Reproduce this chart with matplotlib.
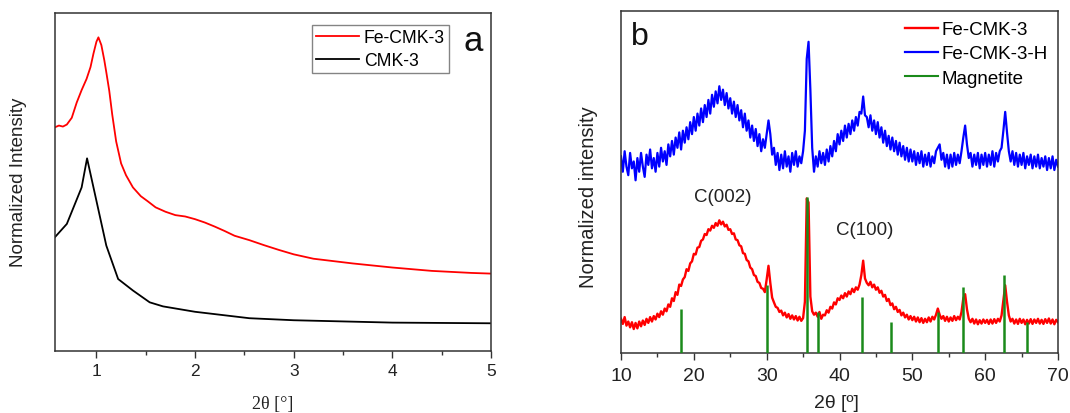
import numpy as np
import matplotlib
matplotlib.use("Agg")
import matplotlib.pyplot as plt
from matplotlib.ticker import MultipleLocator

plt.rcParams['font.family'] = ['Liberation Sans', 'DejaVu Sans']

# ---------------- Panel a data (low-angle XRD) ----------------
two_theta_fe_a = [0.58, 0.62, 0.66, 0.70, 0.75, 0.80, 0.85, 0.90, 0.94, 0.97, 1.00, 1.02,
                  1.05, 1.08, 1.10, 1.13, 1.16, 1.20, 1.25, 1.30, 1.37, 1.45, 1.52, 1.60,
                  1.70, 1.80, 1.90, 2.00, 2.10, 2.20, 2.30, 2.40, 2.55, 2.70, 2.85, 3.00,
                  3.20, 3.40, 3.60, 3.80, 4.00, 4.20, 4.40, 4.60, 4.80, 5.00]
intensity_fe_a = [0.662, 0.667, 0.664, 0.670, 0.690, 0.735, 0.772, 0.805, 0.840, 0.880, 0.915, 0.928,
                  0.905, 0.860, 0.825, 0.770, 0.700, 0.620, 0.555, 0.520, 0.484, 0.458, 0.443, 0.425,
                  0.412, 0.402, 0.398, 0.390, 0.380, 0.368, 0.355, 0.341, 0.328, 0.313, 0.299, 0.286,
                  0.273, 0.266, 0.259, 0.253, 0.247, 0.242, 0.237, 0.234, 0.231, 0.229]

two_theta_cmk_a = [0.58, 0.70, 0.85, 0.905, 1.10, 1.22, 1.37, 1.54, 1.675, 2.00, 2.55, 3.00, 4.00, 5.00]
intensity_cmk_a = [0.337, 0.376, 0.484, 0.570, 0.312, 0.213, 0.179, 0.144, 0.132, 0.116, 0.097,
                   0.091, 0.084, 0.082]

xticks_a = [1, 2, 3, 4, 5]

# ---------------- Panel b data (wide-angle XRD) ----------------
two_theta_b = np.arange(10.0, 70.0 + 1e-9, 0.25)

fe_cmk3_h = [
    575, 530, 590, 545, 520, 585, 540, 560, 505, 570, 530, 585, 545, 515, 580, 550, 595, 540, 570, 530, 585,
    545, 600, 560, 590, 550, 610, 575, 620, 580, 630, 600, 645, 595, 650, 615, 660, 625, 675, 640, 690,
    650, 700, 665, 715, 675, 725, 690, 740, 700, 755, 720, 765, 730, 780, 740, 770, 725, 760, 715, 745,
    700, 735, 690, 725, 680, 710, 660, 700, 650, 680, 630, 665, 620, 655, 605, 640, 590, 625, 600, 640,
    680, 640, 580, 600, 550, 585, 535, 580, 540, 590, 545, 575, 530, 585, 550, 590, 545, 575, 555, 590,
    650, 860, 910, 770, 600, 530, 575, 545, 590, 555, 585, 550, 595, 560, 605, 575, 620, 590, 640, 610,
    650, 620, 665, 630, 670, 640, 680, 650, 690, 665, 705, 700, 750, 695, 690, 660, 695, 650, 680, 640,
    675, 630, 660, 615, 650, 605, 635, 595, 630, 590, 620, 580, 615, 575, 605, 565, 600, 560, 595, 560,
    590, 550, 585, 555, 590, 545, 580, 550, 585, 545, 575, 555, 590, 600, 610, 565, 585, 545, 580, 540,
    580, 545, 585, 550, 580, 555, 590, 630, 665, 610, 570, 585, 545, 580, 550, 585, 540, 580, 550, 585,
    545, 580, 550, 590, 545, 585, 560, 590, 600, 650, 705, 645, 590, 560, 590, 550, 585, 545, 580, 550,
    585, 540, 575, 550, 580, 540, 575, 545, 580, 540, 570, 545, 575, 535, 570, 540, 575, 535, 565, 545,
]

fe_cmk3 = [
    100, 85, 105, 80, 92, 75, 90, 70, 88, 72, 92, 78, 95, 82, 100, 88, 105, 92, 108, 98, 115,
    105, 122, 112, 130, 122, 142, 135, 160, 152, 178, 170, 200, 196, 215, 222, 245, 240, 262, 268, 290,
    288, 308, 310, 328, 332, 348, 345, 362, 358, 372, 366, 380, 372, 388, 376, 384, 370, 375, 360, 362,
    348, 350, 332, 330, 315, 312, 292, 290, 272, 268, 250, 245, 228, 225, 208, 205, 190, 188, 178, 215,
    255, 205, 162, 148, 135, 132, 120, 124, 110, 118, 104, 114, 100, 110, 98, 108, 95, 106, 94, 102,
    150, 452, 440, 165, 122, 112, 118, 106, 120, 100, 112, 110, 125, 118, 135, 130, 148, 142, 160, 155,
    168, 160, 175, 165, 180, 172, 188, 178, 192, 185, 200, 228, 270, 218, 205, 198, 208, 192, 200, 185,
    192, 176, 182, 165, 170, 152, 158, 140, 145, 128, 135, 120, 126, 110, 118, 104, 112, 98, 108, 96,
    106, 92, 104, 90, 102, 88, 100, 90, 104, 92, 106, 98, 112, 130, 112, 100, 108, 94, 106, 92,
    104, 94, 108, 96, 106, 98, 120, 160, 172, 128, 100, 90, 100, 86, 98, 84, 96, 86, 98, 88,
    97, 85, 98, 86, 99, 88, 100, 92, 110, 155, 198, 150, 110, 92, 100, 86, 98, 85, 100, 88,
    98, 84, 97, 86, 99, 85, 98, 88, 100, 86, 97, 85, 99, 88, 101, 86, 98, 84, 97, 90,
]

magnetite_pos = [18.3, 30.1, 35.5, 37.1, 43.1, 47.1, 53.5, 57.0, 62.6, 65.8]
magnetite_int = [129, 200, 455, 120, 165, 92, 120, 192, 227, 92]

xticks_b = [10, 20, 30, 40, 50, 60, 70]

# ---------------- Figure ----------------
fig = plt.figure(figsize=(10.70, 4.14), dpi=100)
W, H = 1070, 414

def px_axes(l, t, r, b):
    return [l / W, 1 - b / H, (r - l) / W, (b - t) / H]

spine_col = '#333333'

# ---- Panel a ----
ax1 = fig.add_axes(px_axes(55, 14, 491, 352))
ax1.plot(two_theta_fe_a, intensity_fe_a, color='#ff0000', lw=1.3, label='Fe-CMK-3')
ax1.plot(two_theta_cmk_a, intensity_cmk_a, color='#000000', lw=1.3, label='CMK-3')
ax1.set_xlim(0.58, 5.0)
ax1.set_ylim(0, 1)
ax1.set_xticks(xticks_a)
ax1.xaxis.set_minor_locator(MultipleLocator(0.5))
ax1.set_yticks([])
ax1.tick_params(axis='x', which='major', direction='out', length=5, width=1,
                labelsize=12.5, pad=4, colors=spine_col, labelcolor='#222222')
ax1.tick_params(axis='x', which='minor', direction='out', length=3, width=1, colors=spine_col)
for s in ax1.spines.values():
    s.set_color(spine_col)
    s.set_linewidth(1.1)
ax1.set_ylabel('Normalized Intensity', fontsize=13.5, color='#222222', va='center')
ax1.yaxis.set_label_coords(-0.0826, 0.503)
ax1.set_xlabel('2θ [°]', fontsize=13, family=['Liberation Serif', 'DejaVu Serif'],
               color='#222222', va='center')
ax1.xaxis.set_label_coords(0.50, -0.154)
leg1 = ax1.legend(loc='upper left', bbox_to_anchor=(312 / W, 1 - 26 / H),
                  bbox_transform=fig.transFigure, fontsize=12.7, frameon=True,
                  fancybox=False, edgecolor='#666666', borderpad=0.25, borderaxespad=0,
                  handlelength=2.4, handletextpad=0.28, labelspacing=0.3)
leg1.get_frame().set_linewidth(1.0)
ax1.text(0.959, 0.92, 'a', transform=ax1.transAxes, fontsize=25, ha='center', va='center',
         color='#111111')

# ---- Panel b ----
ax2 = fig.add_axes(px_axes(621, 12, 1058, 354))
ax2.plot(two_theta_b, fe_cmk3, color='#ff0000', lw=1.7, label='Fe-CMK-3', zorder=2)
ax2.plot(two_theta_b, fe_cmk3_h, color='#0000ff', lw=1.6, label='Fe-CMK-3-H', zorder=2)
ax2.vlines(magnetite_pos, 0, magnetite_int, color='#1a8a1a', lw=1.8, zorder=3)
ax2.plot([], [], color='#1a8a1a', lw=1.5, label='Magnetite')
ax2.set_xlim(10, 70)
ax2.set_ylim(0, 1000)
ax2.set_xticks(xticks_b)
ax2.xaxis.set_minor_locator(MultipleLocator(5))
ax2.set_yticks([])
ax2.tick_params(axis='x', which='major', direction='out', length=5, width=1,
                labelsize=14, pad=5, colors=spine_col, labelcolor='#222222')
ax2.tick_params(axis='x', which='minor', direction='out', length=3, width=1, colors=spine_col)
for s in ax2.spines.values():
    s.set_color(spine_col)
    s.set_linewidth(1.1)
ax2.set_ylabel('Normalized intensity', fontsize=14.5, color='#222222', va='center')
ax2.yaxis.set_label_coords(-0.0755, 0.459)
ax2.set_xlabel('2θ [º]', fontsize=14, color='#222222', va='center')
ax2.xaxis.set_label_coords(0.494, -0.146)
ax2.text(24.0, 459, 'C(002)', fontsize=13.5, ha='center', va='center', color='#222222')
ax2.text(43.4, 361, 'C(100)', fontsize=13.5, ha='center', va='center', color='#222222')
ax2.text(0.043, 0.927, 'b', transform=ax2.transAxes, fontsize=23, ha='center', va='center',
         color='#111111')
leg2 = ax2.legend(loc='upper left', bbox_to_anchor=(905 / W, 1 - 22 / H),
                  bbox_transform=fig.transFigure, fontsize=13.5, frameon=False,
                  borderpad=0, borderaxespad=0, handlelength=1.76, handletextpad=0.2,
                  labelspacing=0.38)

fig.savefig('out.png', dpi=100)
